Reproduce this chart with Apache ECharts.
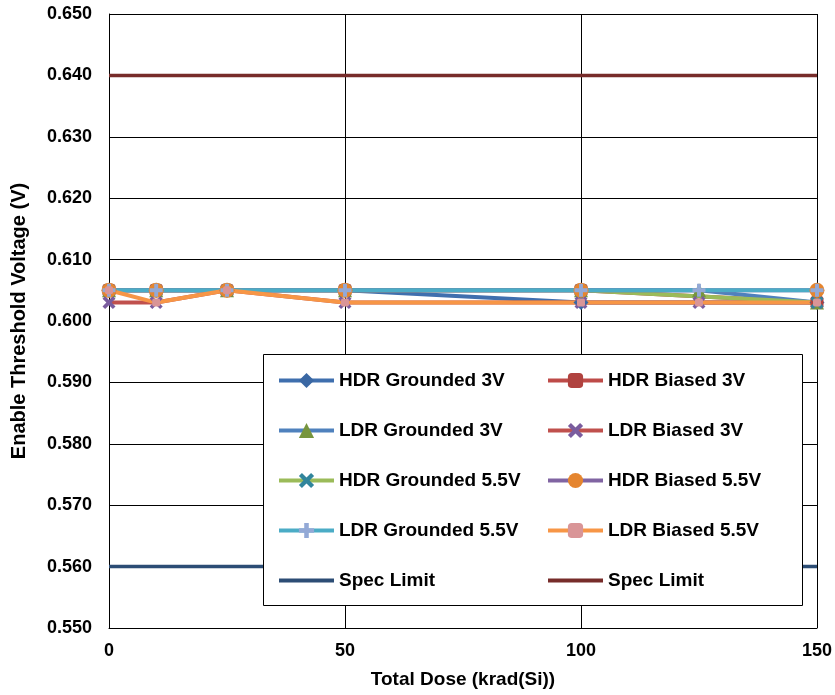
<!DOCTYPE html>
<html>
<head>
<meta charset="utf-8">
<script src="https://cdn.jsdelivr.net/npm/echarts@6/dist/echarts.min.js"></script>
<style>
html,body{margin:0;padding:0;background:#fff;}
#chart{width:835px;height:695px;}
</style>
</head>
<body>
<div id="chart"></div>
<script>
// Dose points (krad(Si)) for the two dose-rate test groups
const doseHDR = [0, 10, 25, 50, 100, 150];
const doseLDR = [0, 10, 25, 50, 100, 125, 150];
const doseSpec = [0, 150];

// Enable threshold voltage readings (V)
const hdrGrounded3V   = [0.605, 0.605, 0.605, 0.605, 0.603, 0.603];
const hdrBiased3V     = [0.605, 0.605, 0.605, 0.605, 0.605, 0.603];
const ldrGrounded3V   = [0.605, 0.605, 0.605, 0.605, 0.605, 0.605, 0.603];
const ldrBiased3V     = [0.603, 0.603, 0.605, 0.603, 0.603, 0.603, 0.603];
const hdrGrounded55V  = [0.605, 0.605, 0.605, 0.605, 0.605, 0.603];
const hdrBiased55V    = [0.605, 0.605, 0.605, 0.605, 0.605, 0.605];
const ldrGrounded55V  = [0.605, 0.605, 0.605, 0.605, 0.605, 0.605, 0.605];
const ldrBiased55V    = [0.605, 0.603, 0.605, 0.603, 0.603, 0.603, 0.603];
const specLow  = [0.560, 0.560];
const specHigh = [0.640, 0.640];

const legendLeft  = ['HDR Grounded 3V', 'LDR Grounded 3V', 'HDR Grounded 5.5V', 'LDR Grounded 5.5V', 'Spec Limit Low'];
const legendRight = ['HDR Biased 3V', 'LDR Biased 3V', 'HDR Biased 5.5V', 'LDR Biased 5.5V', 'Spec Limit High'];

const X_PATH = 'path://M0,2 L2,0 L5,3 L8,0 L10,2 L7,5 L10,8 L8,10 L5,7 L2,10 L0,8 L3,5 Z';
const PLUS_PATH = 'path://M3.5,0 H6.5 V3.5 H10 V6.5 H6.5 V10 H3.5 V6.5 H0 V3.5 H3.5 Z';

function pairs(xs, ys) { return xs.map((x, i) => [x, ys[i]]); }

function mk(name, xs, ys, lineColor, symbol, markColor, size) {
  return {
    name: name,
    type: 'line',
    data: pairs(xs, ys),
    symbol: symbol,
    symbolSize: size,
    showSymbol: true,
    lineStyle: { color: lineColor, width: 4 },
    itemStyle: { color: markColor, borderWidth: 0 },
    color: lineColor,
    emphasis: { disabled: true },
    animation: false
  };
}

const series = [
  mk('HDR Grounded 3V', doseHDR, hdrGrounded3V, '#3f6fae', 'diamond', '#3a67a3', 15),
  mk('HDR Biased 3V', doseHDR, hdrBiased3V, '#be4b48', 'roundRect', '#b0423f', 13),
  mk('LDR Grounded 3V', doseLDR, ldrGrounded3V, '#4f81bd', 'triangle', '#77953d', 14),
  mk('LDR Biased 3V', doseLDR, ldrBiased3V, '#c0504d', X_PATH, '#7a5c9e', 13),
  mk('HDR Grounded 5.5V', doseHDR, hdrGrounded55V, '#9bbb59', X_PATH, '#31859c', 13),
  mk('HDR Biased 5.5V', doseHDR, hdrBiased55V, '#8064a2', 'circle', '#e5852f', 15),
  mk('LDR Grounded 5.5V', doseLDR, ldrGrounded55V, '#4bacc6', PLUS_PATH, '#93a9d6', 13),
  mk('LDR Biased 5.5V', doseLDR, ldrBiased55V, '#f79646', 'roundRect', '#d99597', 8),
  mk('Spec Limit Low', doseSpec, specLow, '#2c4d75', 'none', '#2c4d75', 0),
  mk('Spec Limit High', doseSpec, specHigh, '#772c2a', 'none', '#772c2a', 0)
];
series[8].lineStyle.width = 3.5;
series[9].lineStyle.width = 3.5;

const FONT = 'Liberation Sans, Arial, sans-serif';
const legendText = { fontFamily: FONT, fontWeight: 'bold', fontSize: 19, color: '#000' };

function legendItems(names) {
  return names.map(n => n.indexOf('Spec Limit') === 0
    ? { name: n, itemStyle: { opacity: 0 } }
    : { name: n });
}
function legendFmt(n) { return n.indexOf('Spec Limit') === 0 ? 'Spec Limit' : n; }

function legendCol(names, left) {
  return {
    data: legendItems(names), orient: 'vertical', left: left, top: 371, padding: 0,
    itemWidth: 55, itemHeight: 19, itemGap: 31,
    lineStyle: { width: 4 },
    textStyle: legendText, formatter: legendFmt, z: 10, selectedMode: false
  };
}

const chart = echarts.init(document.getElementById('chart'), null, { renderer: 'canvas' });
chart.setOption({
  backgroundColor: '#fff',
  animation: false,
  grid: { left: 109, right: 17, top: 14, bottom: 67, containLabel: false },
  xAxis: {
    type: 'value', min: 0, max: 150, interval: 50,
    name: 'Total Dose (krad(Si))', nameLocation: 'middle', nameGap: 42,
    nameTextStyle: { fontFamily: FONT, fontWeight: 'bold', fontSize: 19, color: '#000' },
    axisLine: { show: true, lineStyle: { color: '#000', width: 1 } },
    axisTick: { show: false },
    axisLabel: { fontFamily: FONT, fontWeight: 'bold', fontSize: 18, color: '#000', margin: 14 },
    splitLine: { show: true, lineStyle: { color: '#000', width: 1 } }
  },
  yAxis: {
    type: 'value', min: 0.55, max: 0.65, interval: 0.01,
    name: 'Enable Threshold Voltage (V)', nameLocation: 'middle', nameGap: 80,
    nameTextStyle: { fontFamily: FONT, fontWeight: 'bold', fontSize: 20, color: '#000' },
    axisLine: { show: true, lineStyle: { color: '#000', width: 1 } },
    axisTick: { show: false },
    axisLabel: { fontFamily: FONT, fontWeight: 'bold', fontSize: 18, color: '#000', margin: 17,
                 formatter: v => v.toFixed(3) },
    splitLine: { show: true, lineStyle: { color: '#000', width: 1 } }
  },
  graphic: [{
    type: 'rect', z: 9,
    shape: { x: 263.5, y: 354.5, width: 539, height: 251 },
    style: { fill: '#fff', stroke: '#000', lineWidth: 1 }
  }],
  legend: [legendCol(legendLeft, 277), legendCol(legendRight, 546)],
  series: series
});
</script>
</body>
</html>
